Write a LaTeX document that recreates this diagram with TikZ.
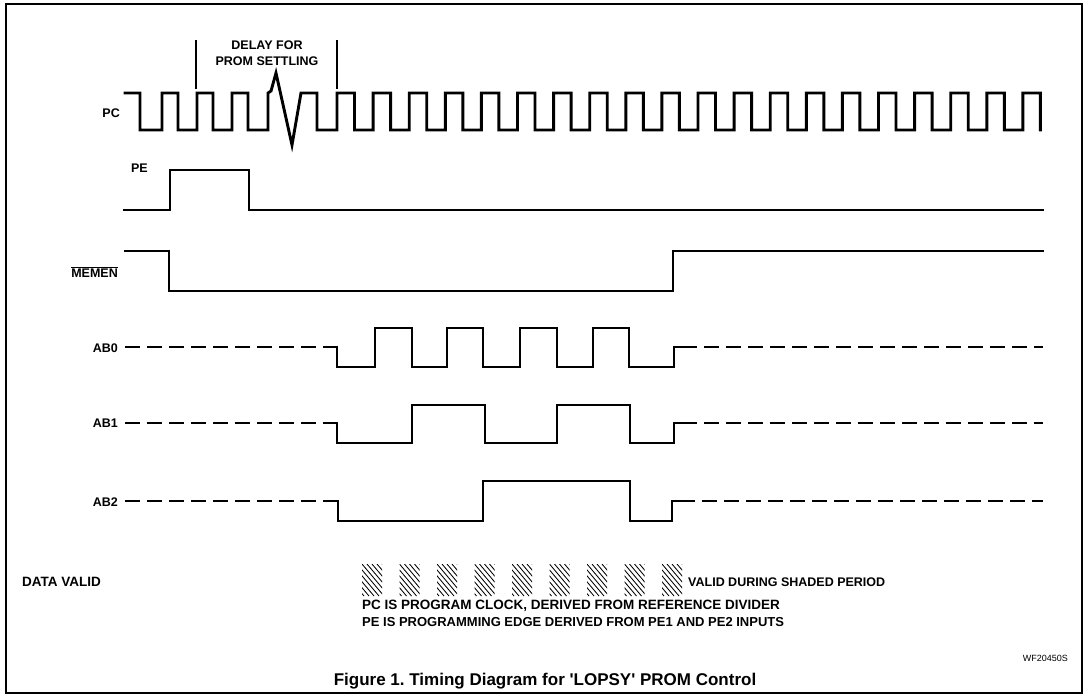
\documentclass[tikz,border=0pt]{standalone}
\usepackage{fontspec}
\setmainfont{Liberation Sans}
\begin{document}
\begin{tikzpicture}[x=1pt,y=-1pt,
  sig/.style={line width=2.9pt,line join=miter,line cap=rect},
  dsig/.style={line width=2.9pt,dash pattern=on 15pt off 7pt},
  thin/.style={line width=1.2pt},
  lbl/.style={font=\fontsize{12.5}{14}\selectfont\bfseries,inner sep=0pt},
  note/.style={font=\fontsize{12.5}{15}\selectfont\bfseries,inner sep=0pt}]
\useasboundingbox (0,0) rectangle (1087,697);
\draw[line width=1.8pt] (6,4) rectangle (1082,693);

% labels
\node[lbl,anchor=east] (pc) at (120,113) {PC};
\node[lbl,anchor=east] (pe) at (148,168) {PE};
\node[lbl,anchor=east] (memen) at (118,272) {$\overline{\hbox{MEMEN}}$};
\node[lbl,anchor=east] (ab0) at (118,348) {AB0};
\node[lbl,anchor=east] (ab1) at (118,423) {AB1};
\node[lbl,anchor=east] (ab2) at (118,502) {AB2};
\node[lbl,anchor=west,font=\fontsize{13.5}{15}\selectfont\bfseries] (dv) at (22,582) {DATA VALID};

% delay annotation
\node[lbl,align=center] (delay) at (267,53) {DELAY FOR\\[1.5pt]PROM SETTLING};
\draw[thin] (196,40) -- (196,89);
\draw[thin] (337,40) -- (337,89);

% PC clock
\draw[sig] (125,93) -- (140,93) -- (140,130) -- (162,130) -- (162,93) -- (178,93)
  -- (178,130) -- (197,130) -- (197,93) -- (213,93) -- (213,130) -- (232,130)
  -- (232,93) -- (248,93) -- (248,130) -- (268,130) -- (268,93) -- (271,91)
  -- (276,73) -- (292,145) -- (301,93) -- (317,93) -- (317,130) -- (337,130)
  foreach \k in {0,...,19} { -- ({337+36.1*\k},130) -- ({337+36.1*\k},93)
    -- ({354.5+36.1*\k},93) -- ({354.5+36.1*\k},130) };

% PE
\draw[sig] (124,210) -- (170,210) -- (170,170) -- (249,170) -- (249,210) -- (1043,210);

% MEMEN
\draw[sig] (125,251) -- (169,251) -- (169,291) -- (673,291) -- (673,251) -- (1043,251);

% AB0
\draw[dsig] (125,347) -- (336,347);
\draw[sig] (330,347) -- (337,347) -- (337,367) -- (375,367) -- (375,328) -- (412,328)
  -- (412,367) -- (447,367) -- (447,328) -- (483,328) -- (483,367) -- (520,367)
  -- (520,328) -- (557,328) -- (557,367) -- (593,367) -- (593,328) -- (629,328)
  -- (629,367) -- (674,367) -- (674,347) -- (682,347);
\draw[dsig] (682,347) -- (1043,347);

% AB1
\draw[dsig] (125,423) -- (336,423);
\draw[sig] (330,423) -- (337,423) -- (337,443) -- (412,443) -- (412,405) -- (485,405)
  -- (485,443) -- (557,443) -- (557,405) -- (630,405) -- (630,443) -- (674,443)
  -- (674,423) -- (682,423);
\draw[dsig] (682,423) -- (1043,423);

% AB2
\draw[dsig] (125,501) -- (336,501);
\draw[sig] (330,501) -- (338,501) -- (338,521) -- (483,521) -- (483,481) -- (630,481)
  -- (630,521) -- (672,521) -- (672,501) -- (680,501);
\draw[dsig] (680,501) -- (1043,501);

% data valid hatching
\foreach \k in {0,...,8} {
  \begin{scope}
    \clip ({362+37.5*\k},564) rectangle ({382+37.5*\k},596);
    \foreach \d in {-40,-35,...,25}
      \draw[line width=0.85pt] ({362+37.5*\k+\d},564) -- ({362+37.5*\k+\d+27},596);
  \end{scope}
}
\node[note,anchor=west] (valid) at (688,582) {VALID DURING SHADED PERIOD};
\node[font=\fontsize{13.5}{15}\selectfont\bfseries,inner sep=0pt,anchor=west] (note1) at (362,606)
  {PC IS PROGRAM CLOCK, DERIVED FROM REFERENCE DIVIDER};
\node[font=\fontsize{13}{15}\selectfont\bfseries,inner sep=0pt,anchor=west] (note2) at (362,622)
  {PE IS PROGRAMMING EDGE DERIVED FROM PE1 AND PE2 INPUTS};
\node[font=\fontsize{9}{10}\selectfont,anchor=east,inner sep=0pt] (wf) at (1068,658) {WF20450S};
\node[font=\fontsize{17}{19}\selectfont\bfseries,inner sep=0pt] (title) at (545,681)
  {Figure 1.\ Timing Diagram for \textquotesingle LOPSY\textquotesingle{}\ PROM\ Control};
\end{tikzpicture}
\end{document}
